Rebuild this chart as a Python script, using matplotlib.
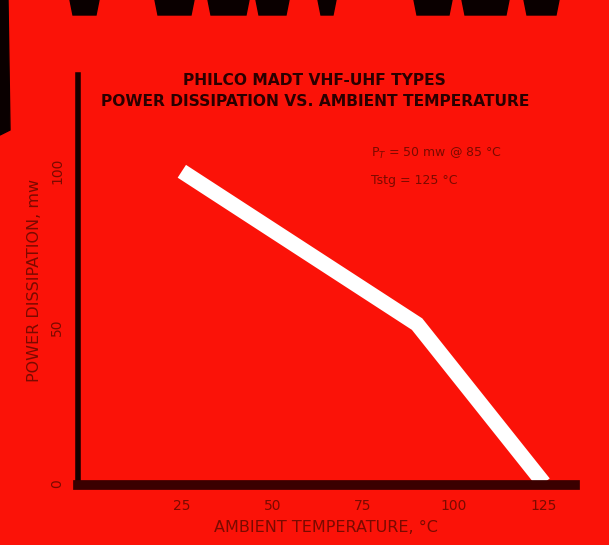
import matplotlib.pyplot as plt
from matplotlib.patches import Polygon

# data
temp_c = [25, 90, 125]
power_mw = [100, 51, 0]

x_ticks = [25, 50, 75, 100, 125]
y_ticks = [0, 50, 100]

bg = '#fb1208'
ink = '#7a0a00'

fig = plt.figure(figsize=(6.09, 5.45), dpi=100)
fig.patch.set_facecolor(bg)

# bits of the big black lettering cut off at the top of the page
tops = [(70, 99), (155, 194), (208, 249), (256, 289), (318, 336), (414, 452), (462, 509), (524, 559)]
for x0, x1 in tops:
    fig.patches.append(Polygon([(x0 / 609, 1), (x1 / 609, 1), ((x1 - 3) / 609, 1 - 15 / 545),
                                ((x0 + 3) / 609, 1 - 15 / 545)], closed=True,
                               transform=fig.transFigure, color='#0a0000', zorder=0))
fig.patches.append(Polygon([(0, 1), (8 / 609, 1), (10 / 609, 1 - 130 / 545), (0, 1 - 135 / 545)],
                           closed=True, transform=fig.transFigure, color='#0a0000', zorder=0))

ax = fig.add_axes([0.128, 0.110, 0.816, 0.752])
ax.set_facecolor(bg)

ax.plot(temp_c, power_mw, color='white', linewidth=11, solid_capstyle='butt', solid_joinstyle='miter')

ax.set_xlim(-3.7, 133.6)
ax.set_ylim(-0.6, 130.8)
ax.set_xticks(x_ticks)
ax.set_yticks(y_ticks)
ax.set_xticklabels([str(v) for v in x_ticks], fontsize=10, color=ink)
ax.set_yticklabels([str(v) for v in y_ticks], fontsize=10, color=ink, rotation=90, va='center')
ax.tick_params(length=0, pad=10)

for s in ['top', 'right']:
    ax.spines[s].set_visible(False)
ax.spines['left'].set_color('#150000')
ax.spines['left'].set_linewidth(4)
ax.spines['bottom'].set_color('#3a0000')
ax.spines['bottom'].set_linewidth(7)

ax.set_xlabel('AMBIENT TEMPERATURE, \u00b0C', fontsize=11.5, color=ink, labelpad=5)
ax.set_ylabel('POWER DISSIPATION, mw', fontsize=11.5, color=ink, labelpad=6)

fig.text(0.517, 0.853, 'PHILCO MADT VHF-UHF TYPES', ha='center', va='center',
         fontsize=11.2, fontweight='bold', color='#2a0000')
fig.text(0.517, 0.814, 'POWER DISSIPATION VS. AMBIENT TEMPERATURE', ha='center', va='center',
         fontsize=11.2, fontweight='bold', color='#2a0000')

ax.text(0.59, 0.80, 'P$_T$ = 50 mw @ 85 \u00b0C', transform=ax.transAxes, fontsize=9, color=ink)
ax.text(0.59, 0.735, 'Tstg = 125 \u00b0C', transform=ax.transAxes, fontsize=9, color=ink)

fig.savefig('out.png', dpi=100, facecolor=fig.get_facecolor())
